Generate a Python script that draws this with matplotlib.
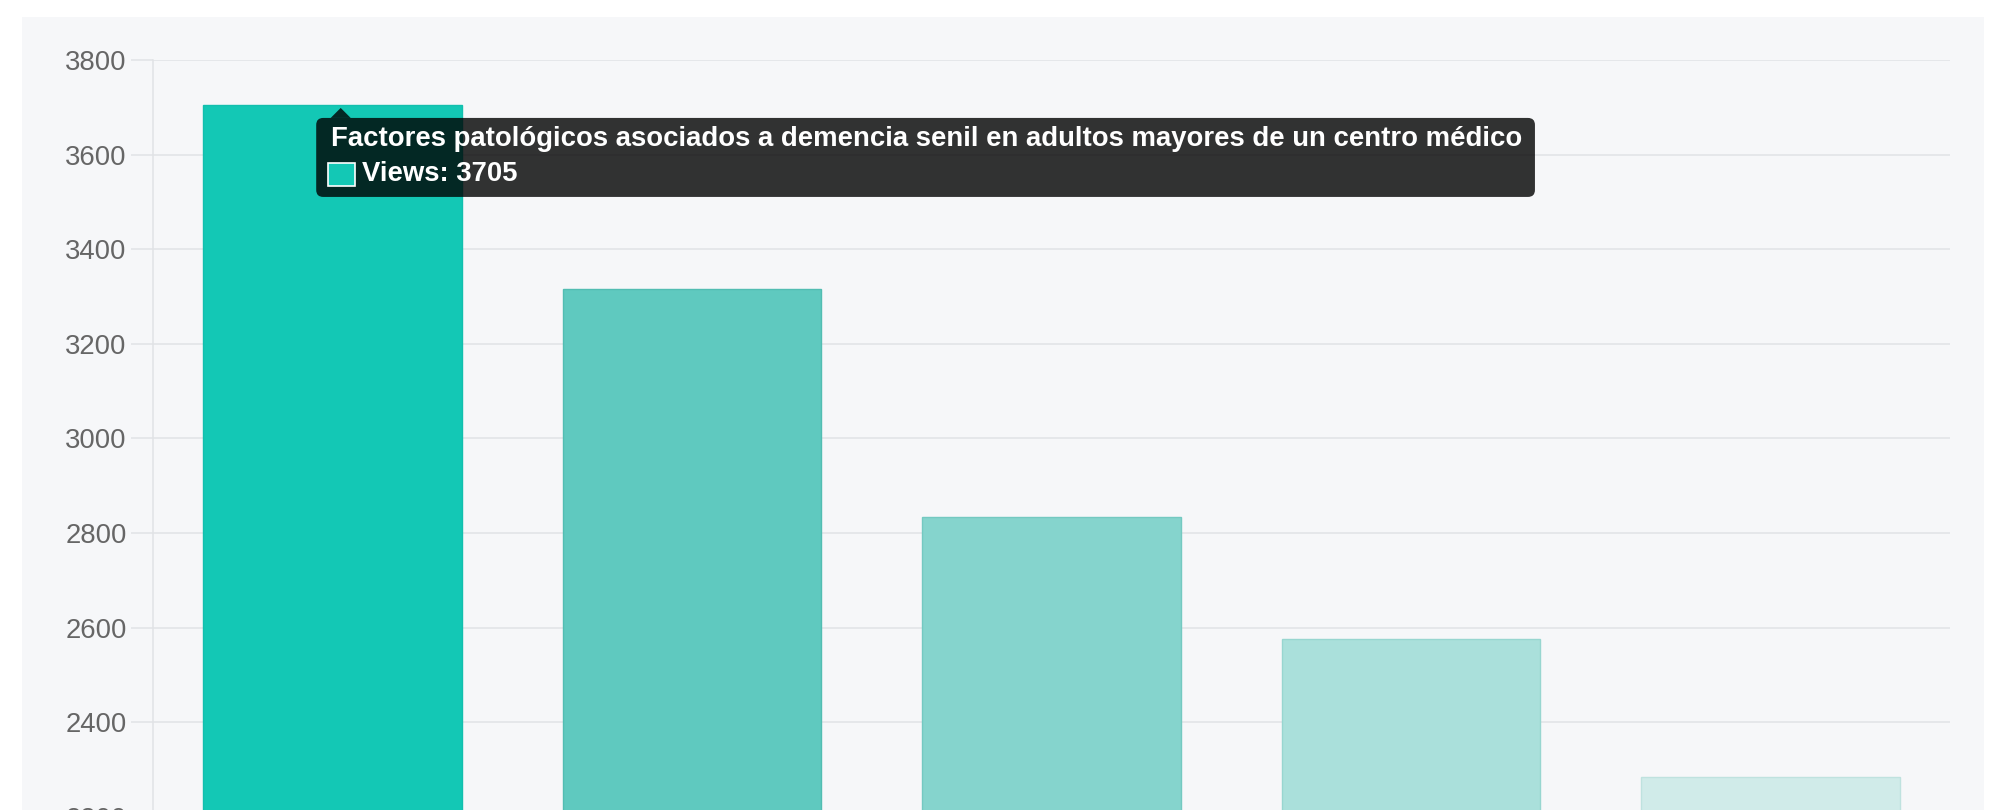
import matplotlib
matplotlib.use("Agg")
import matplotlib.pyplot as plt
from matplotlib.patches import FancyBboxPatch, Rectangle, Polygon
from matplotlib.transforms import IdentityTransform

plt.rcParams["font.family"] = ["Liberation Sans", "DejaVu Sans"]

# datos (vistas por artículo, ordenados)
ranking = ["1", "2", "3", "4", "5"]
vistas = [3705, 3316, 2834, 2576, 2285]
ticks_y = [2000, 2200, 2400, 2600, 2800, 3000, 3200, 3400, 3600, 3800]
titulo_tooltip = "Factores patológicos asociados a demencia senil en adultos mayores de un centro médico"
etiqueta_serie = "Views"

colores = ["#13c8b5", "#5fc9bf", "#85d4cd", "#aae0db", "#d0ebe9"]
bordes = ["#12bfae", "#52bdb2", "#74c9c1", "#98d6d0", "#bfe2df"]
gris_grid = "#e1e3e6"
tam = 19.8

W, H = 2010, 810
fig = plt.figure(figsize=(W / 100, H / 100), dpi=100)
fig.patch.set_facecolor("white")

# panel de fondo gris claro
fig.add_artist(Rectangle((22 / W, 0), (1984 - 22) / W, (H - 17) / H,
                         transform=fig.transFigure, facecolor="#f6f7f9",
                         edgecolor="none", zorder=-10))

# el área de trazado sigue por debajo del recorte
paso = 94.6
alto = (len(ticks_y) - 1) * paso
ax = fig.add_axes([153 / W, (H - 60 - alto) / H, 1797 / W, alto / H])
ax.set_facecolor("none")

ax.bar(ranking, vistas, width=0.72, color=colores, edgecolor=bordes,
       linewidth=1.0, zorder=3)

ax.set_xlim(-0.5, len(ranking) - 0.5)
ax.set_ylim(ticks_y[0], ticks_y[-1])
ax.set_yticks(ticks_y)
ax.set_yticklabels([str(t) for t in ticks_y])
ax.yaxis.grid(True, color=gris_grid, linewidth=1.1, zorder=0)
ax.set_axisbelow(True)
ax.tick_params(axis="y", length=16, width=1.1, color=gris_grid, pad=3,
               labelsize=tam, labelcolor="#666666")
ax.tick_params(axis="x", length=0, labelbottom=False)
for lado in ["top", "right", "bottom"]:
    ax.spines[lado].set_visible(False)
ax.spines["left"].set_color(gris_grid)
ax.spines["left"].set_linewidth(1.1)

# tooltip sobre la primera barra
fig.canvas.draw()
renderer = fig.canvas.get_renderer()
px, py = ax.transData.transform((0, vistas[0]))
x0 = px - 16.5
tope = py - 13
base = py - 92

txt_titulo = fig.text(x0 + 14.5, py - 41, titulo_tooltip, transform=IdentityTransform(),
                      color="white", fontsize=tam, fontweight="bold",
                      ha="left", va="baseline", zorder=12)
ancho_txt = txt_titulo.get_window_extent(renderer).width
x1 = x0 + 14.5 + ancho_txt + 13

fig.add_artist(FancyBboxPatch((x0, base), x1 - x0, tope - base,
                              boxstyle="round,pad=0,rounding_size=7",
                              transform=IdentityTransform(),
                              facecolor=(0, 0, 0, 0.8), edgecolor="none", zorder=11))
fig.add_artist(Polygon([(px - 2, tope), (px + 8, py - 3), (px + 18, tope)],
                       closed=True, transform=IdentityTransform(),
                       facecolor=(0, 0, 0, 0.8), edgecolor="none", zorder=11))
fig.add_artist(Rectangle((x0 + 12, py - 81), 27, 23, transform=IdentityTransform(),
                         facecolor=colores[0], edgecolor="white", linewidth=1.2,
                         zorder=12))
fig.text(x0 + 46, py - 76, f"{etiqueta_serie}: {vistas[0]}", transform=IdentityTransform(),
         color="white", fontsize=tam, fontweight="bold",
         ha="left", va="baseline", zorder=12)

fig.savefig("out.png", dpi=100)
